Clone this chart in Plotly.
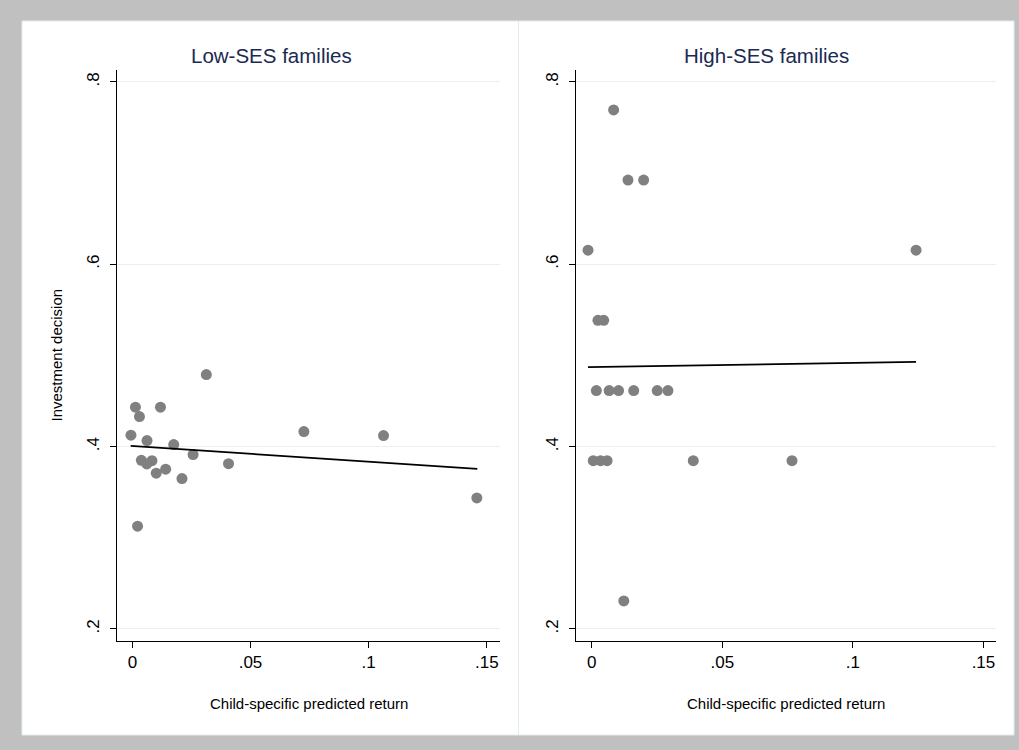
import plotly.graph_objects as go

# ---------------- data ----------------
low_x = [-0.0006, 0.0013, 0.0119, 0.0030, 0.0062, 0.0175, 0.0257, 0.0038, 0.0083, 0.0061,
         0.0101, 0.0141, 0.0210, 0.0407, 0.0022, 0.0313, 0.0726, 0.1063, 0.1458]
low_y = [0.4125, 0.4432, 0.4432, 0.4329, 0.4066, 0.4022, 0.3912, 0.3849, 0.3846, 0.3810,
         0.3708, 0.3752, 0.3649, 0.3813, 0.3127, 0.4790, 0.4165, 0.4121, 0.3437]
low_fit_x = [-0.0007, 0.1460]
low_fit_y = [0.4008, 0.3755]

high_x = [0.0084, 0.0139, 0.0199, -0.0014, 0.1242, 0.0024, 0.0046,
          0.0018, 0.0067, 0.0103, 0.0161, 0.0251, 0.0292,
          0.0006, 0.0034, 0.0059, 0.0389, 0.0767, 0.0123]
high_y = [0.7692, 0.6923, 0.6923, 0.6154, 0.6154, 0.5385, 0.5385,
          0.4615, 0.4615, 0.4615, 0.4615, 0.4615, 0.4615,
          0.3846, 0.3846, 0.3846, 0.3846, 0.3846, 0.2308]
high_fit_x = [-0.0014, 0.1242]
high_fit_y = [0.4871, 0.4929]

panel_titles = ["Low-SES families", "High-SES families"]
x_title = "Child-specific predicted return"
y_title = "Investment decision"
x_ticks = [0, 0.05, 0.1, 0.15]
x_ticktext = ["0", ".05", ".1", ".15"]
y_ticks = [0.2, 0.4, 0.6, 0.8]
y_ticktext = [".2", ".4", ".6", ".8"]

# ---------------- figure ----------------
W, H = 1019, 750
FONT = "Liberation Sans, Arial, Helvetica, sans-serif"
MARKER = "#808080"
GRID = "#e8f0f0"
TITLE_COLOR = "#1a2a52"

def px_x(p):
    return p / W

def px_y(p):
    return 1 - p / H

fig = go.Figure()

fig.add_trace(go.Scatter(x=low_x, y=low_y, mode="markers", xaxis="x", yaxis="y",
                         marker=dict(color=MARKER, size=11, line=dict(width=0)),
                         showlegend=False))
fig.add_trace(go.Scatter(x=low_fit_x, y=low_fit_y, mode="lines", xaxis="x", yaxis="y",
                         line=dict(color="black", width=1.8), showlegend=False))
fig.add_trace(go.Scatter(x=high_x, y=high_y, mode="markers", xaxis="x2", yaxis="y2",
                         marker=dict(color=MARKER, size=11, line=dict(width=0)),
                         showlegend=False))
fig.add_trace(go.Scatter(x=high_fit_x, y=high_fit_y, mode="lines", xaxis="x2", yaxis="y2",
                         line=dict(color="black", width=1.8), showlegend=False))

def xaxis(domain, rng, anchor):
    return dict(domain=domain, range=rng, anchor=anchor, tickvals=x_ticks, ticktext=x_ticktext,
                showline=True, linecolor="black", linewidth=1, ticks="outside", ticklen=6,
                tickcolor="black", tickwidth=1, showgrid=False, zeroline=False,
                tickfont=dict(family=FONT, size=17, color="black"))

def yaxis(domain, rng, anchor):
    return dict(domain=domain, range=rng, anchor=anchor, tickvals=y_ticks, ticktext=y_ticktext,
                showline=True, linecolor="black", linewidth=1, ticks="outside", ticklen=6,
                tickcolor="black", tickwidth=1, showgrid=True, gridcolor=GRID, gridwidth=1,
                zeroline=False, tickangle=-90, ticklabelstandoff=4,
                tickfont=dict(family=FONT, size=17, color="black"))

ydom = [px_y(641), px_y(70)]
yrng = [0.1868, 0.813]

fig.update_layout(
    width=W, height=H,
    margin=dict(l=0, r=0, t=0, b=0),
    paper_bgcolor="#c0c0c0",
    plot_bgcolor="white",
    xaxis=xaxis([px_x(117), px_x(500)], [-0.0065, 0.1556], "y"),
    yaxis=yaxis(ydom, yrng, "x"),
    xaxis2=xaxis([px_x(576), px_x(996)], [-0.0060, 0.1548], "y2"),
    yaxis2=yaxis(ydom, yrng, "x2"),
    font=dict(family=FONT),
)

# panel backgrounds
shapes = [
    dict(type="rect", xref="paper", yref="paper", x0=px_x(22), x1=px_x(518.5),
         y0=px_y(735), y1=px_y(21), fillcolor="white", line=dict(color="#e3ecec", width=1),
         layer="below"),
    dict(type="rect", xref="paper", yref="paper", x0=px_x(518.5), x1=px_x(1014),
         y0=px_y(735), y1=px_y(21), fillcolor="white", line=dict(color="#e3ecec", width=1),
         layer="below"),
]
fig.update_layout(shapes=shapes)

def ann(text, x, y, size, color, angle=0):
    return dict(text=text, x=px_x(x), y=px_y(y), xref="paper", yref="paper",
                xanchor="center", yanchor="middle", showarrow=False, textangle=angle,
                font=dict(family=FONT, size=size, color=color))

annotations = [
    ann(panel_titles[0], 271, 55, 20.5, TITLE_COLOR),
    ann(panel_titles[1], 766, 55, 20.5, TITLE_COLOR),
    ann(x_title, 308.5, 703, 15, "black"),
    ann(x_title, 786, 703, 15, "black"),
    ann(y_title, 56, 355.5, 15, "black", -90),
]
fig.update_layout(annotations=annotations)

fig.write_html("out.html", config={"displayModeBar": False},
               post_script="document.body.style.margin='0';document.body.style.padding='0';")
